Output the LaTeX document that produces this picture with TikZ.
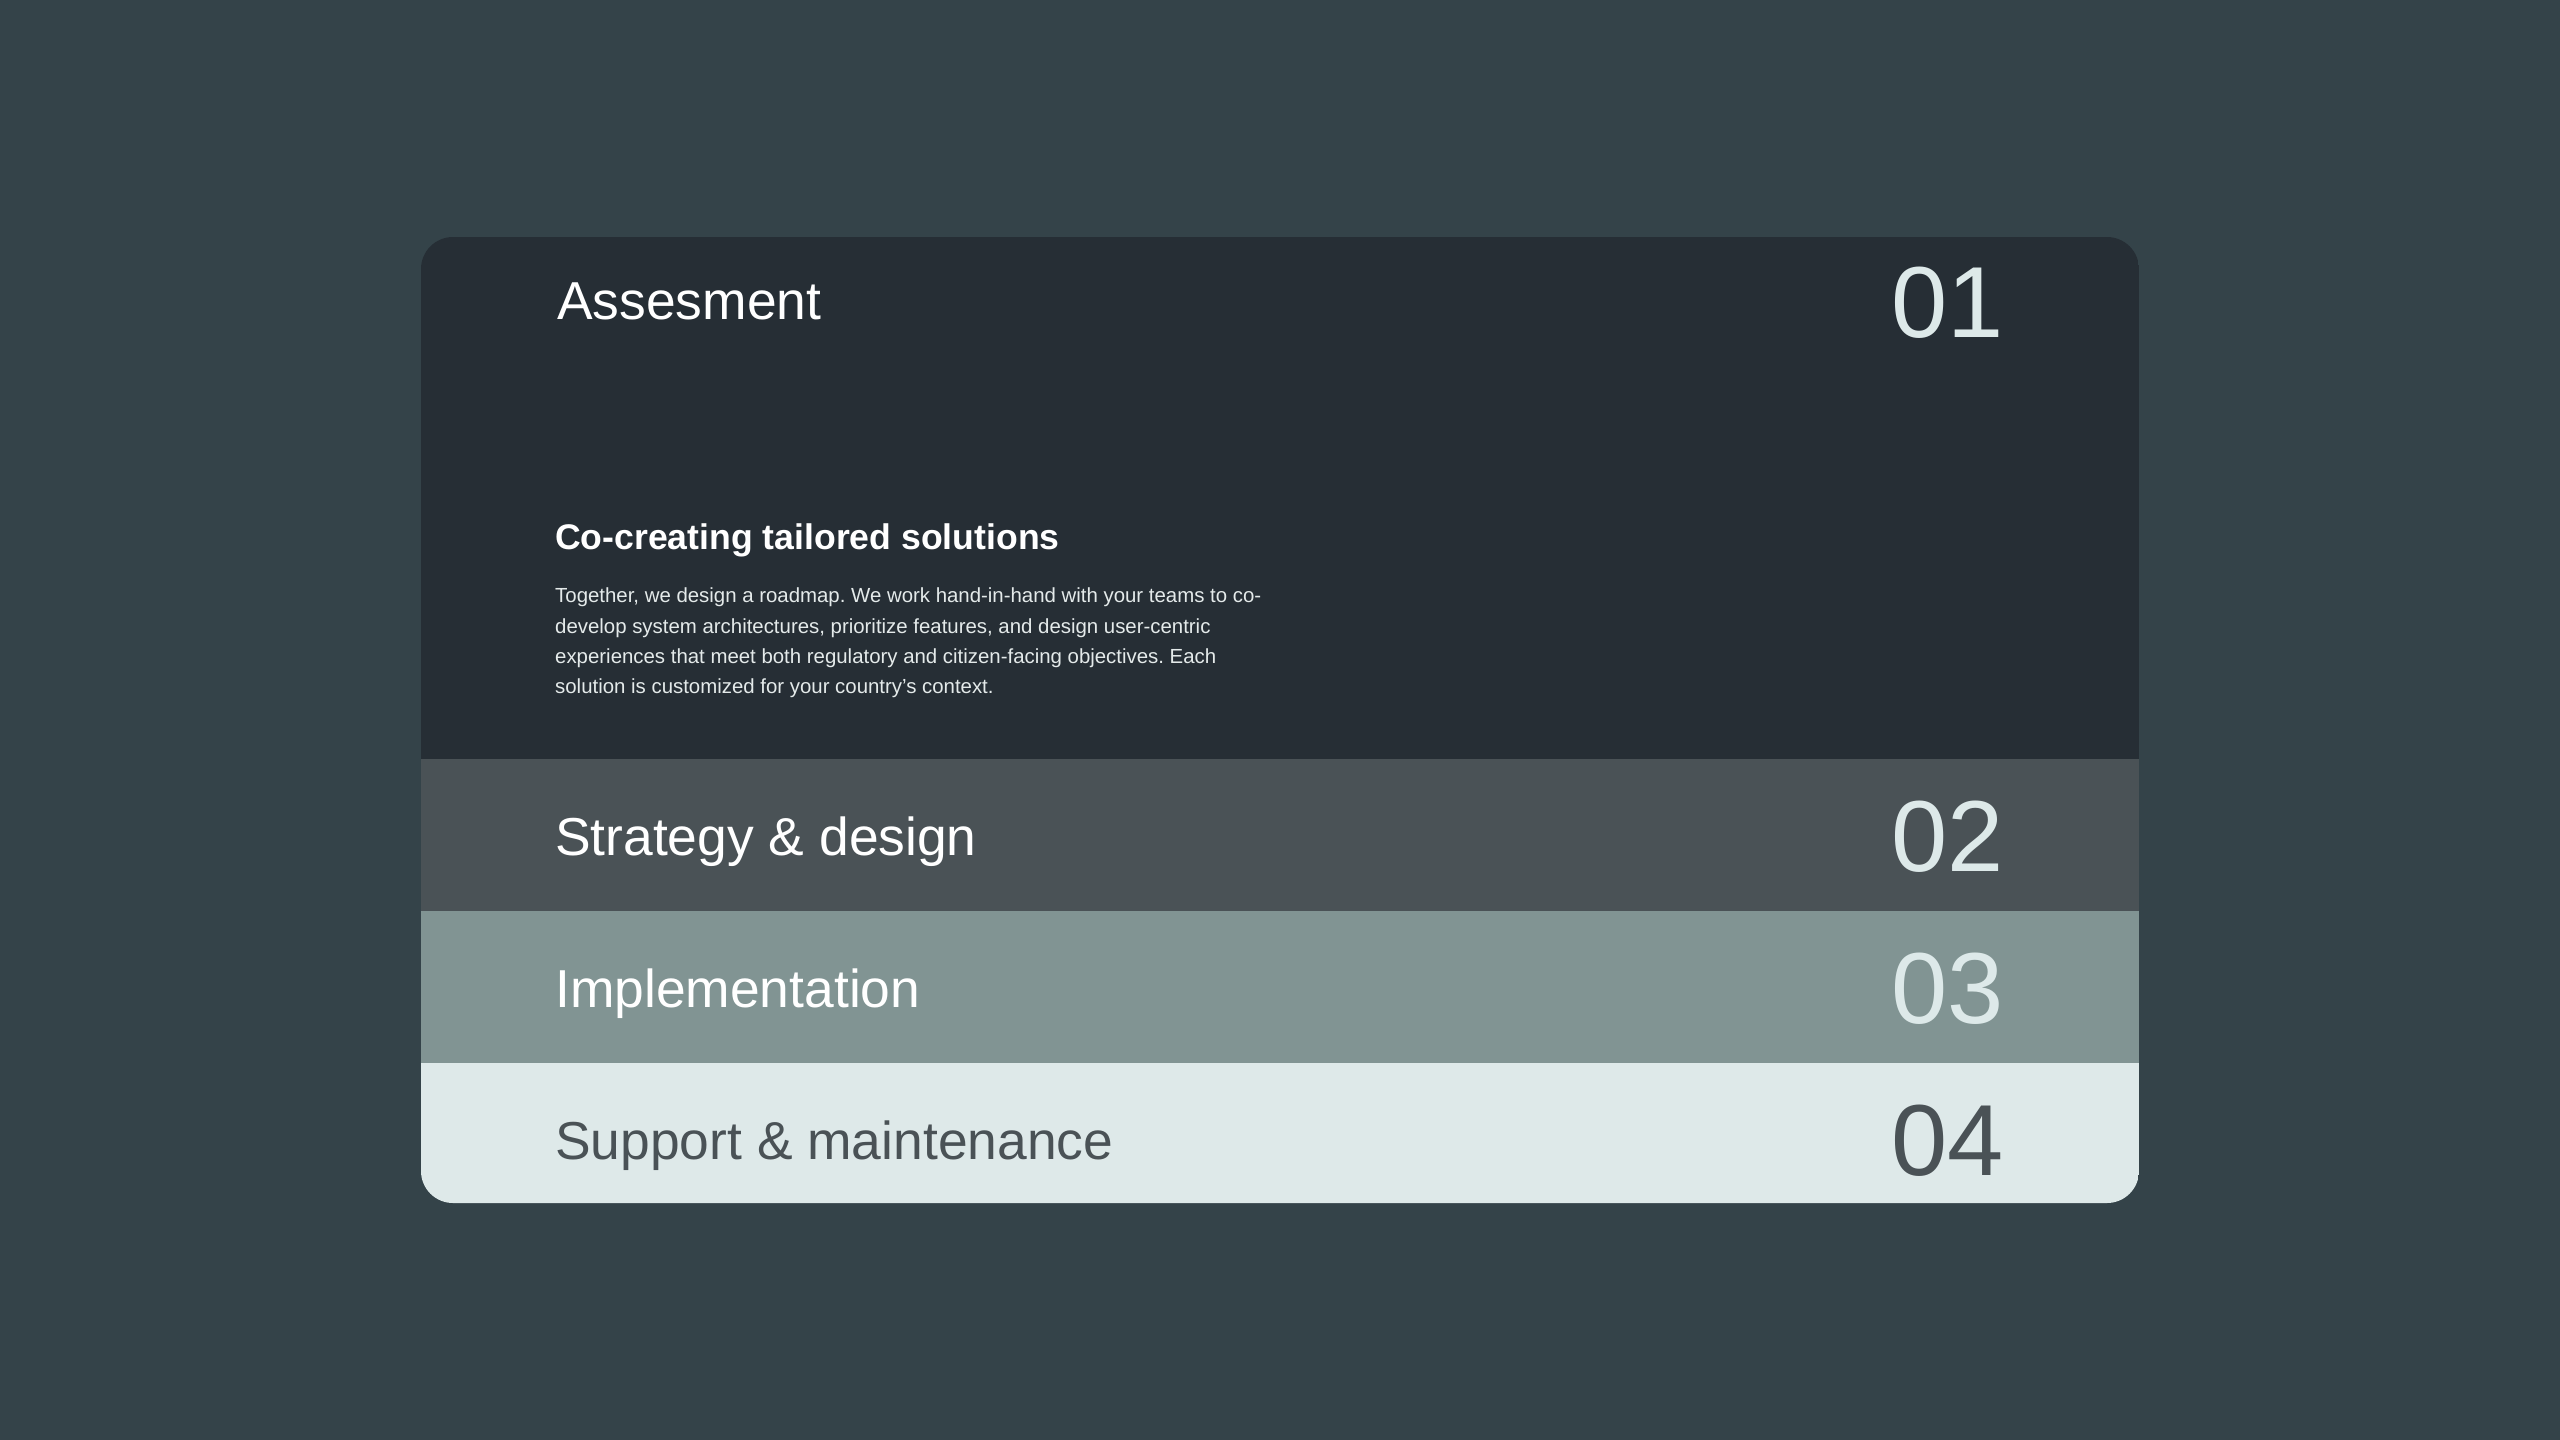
\documentclass[tikz,border=0pt]{standalone}
\usepackage{fontspec}
\setmainfont{Liberation Sans}
\frenchspacing
\definecolor{PageBg}{HTML}{344349}
\definecolor{CardDark}{HTML}{262E35}
\definecolor{BandMid}{HTML}{4A5256}
\definecolor{BandSage}{HTML}{819493}
\definecolor{BandPale}{HTML}{DEE9E9}
\definecolor{NumLight}{HTML}{DDE9E9}
\definecolor{BodyGrey}{HTML}{E4EAEA}
\newcommand*{\CardLeft}{421}
\newcommand*{\CardRight}{2139}
\newcommand*{\DrawStepBand}[8]{%
    % #1 = node name
    % #2 = top edge, #3 = bottom edge
    % #4 = fill colour, #5 = title colour, #6 = number colour
    % #7 = title, #8 = number
    \fill [#4] (\CardLeft,#2) rectangle (\CardRight,#3);
    \node [band title, text=#5] (#1-title) at (555,#2+96) {#7};
    \node [band number, text=#6] (#1-num) at (1891,#2+112.5) {#8};
}

\begin{document}
\begin{tikzpicture}[x=1pt, y=-1pt,
    band title/.style={anchor=base west, inner sep=0pt, font=\fontsize{53.4}{60}\selectfont},
    band number/.style={anchor=base west, inner sep=0pt, font=\fontsize{101}{110}\selectfont}]
    \useasboundingbox (0,0) rectangle (2560,1440);
    \fill [PageBg] (0,0) rectangle (2560,1440);
    \begin{scope}
        \clip [rounded corners=32pt] (\CardLeft,237) rectangle (\CardRight,1203);
        \fill [CardDark] (\CardLeft,237) rectangle (\CardRight,759);
        % lower steps
        \foreach \N/\T/\B/\F/\C/\D/\L/\M in {%
            strategy/759/911/BandMid/white/NumLight/Strategy \& design/02,
            implement/911/1063/BandSage/white/NumLight/Implementation/03,
            support/1063/1220/BandPale/BandMid/BandMid/Support \& maintenance/04}
            {\DrawStepBand{\N}{\T}{\B}{\F}{\C}{\D}{\L}{\M}}
    \end{scope}

    % first step, opened
    \node [band title, text=white] (assess-title) at (557,319) {Assesment};
    \node [band number, text=NumLight] (assess-num) at (1891,337) {01};
    \node [anchor=base west, inner sep=0pt, text=white,
        font=\bfseries\fontsize{35.6}{40}\selectfont] (assess-head) at (555,549)
        {Co-creating tailored solutions};
    \node [anchor=north west, inner sep=0pt, align=left, text=BodyGrey,
        font=\fontsize{20.4}{30.3}\selectfont] (assess-body) at (555,588)
        {Together, we design a roadmap. We work hand-in-hand with your teams to co-\\
         develop system architectures, prioritize features, and design user-centric\\
         experiences that meet both regulatory and citizen-facing objectives. Each\\
         solution is customized for your country’s context.};
\end{tikzpicture}
\end{document}
